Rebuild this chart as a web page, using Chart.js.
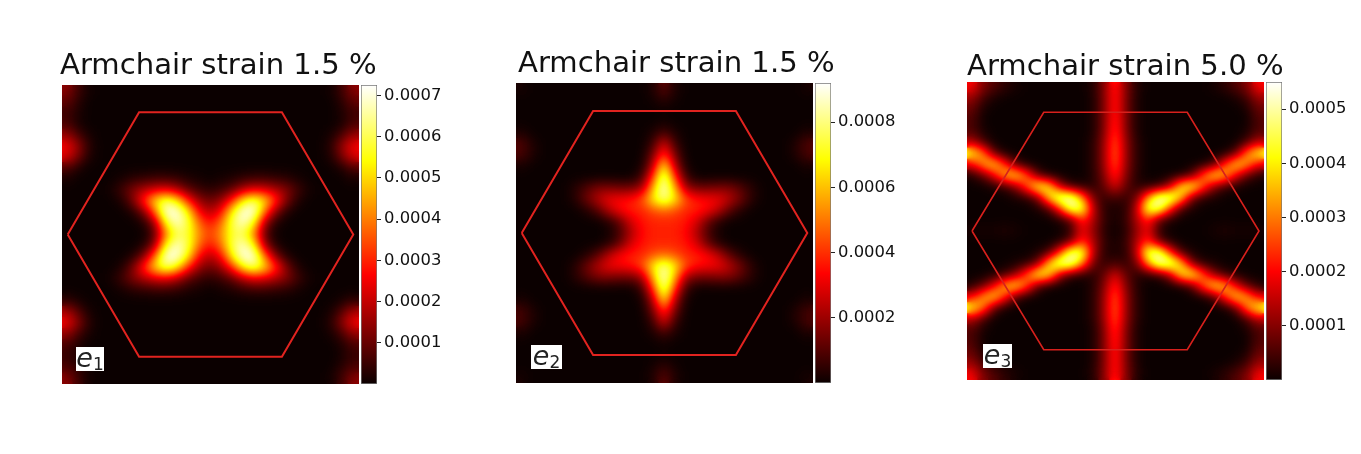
<!DOCTYPE html>
<html>
<head>
<meta charset="utf-8">
<script src="https://cdn.jsdelivr.net/npm/chart.js@4/dist/chart.umd.js"></script>
<style>
  html, body { margin: 0; background: #fff; }
  body { width: 1361px; height: 454px; position: relative; overflow: hidden; font-family: "DejaVu Sans", sans-serif; }
  canvas { position: absolute; display: block; }
  .title { position: absolute; font-size: 29.1px; line-height: 32px; color: #111; white-space: nowrap; }
  .tag { position: absolute; background: #fff; color: #222; font-size: 27px; line-height: 21px; height: 24px; text-align: center; }
  .tag sub { font-size: 17px; line-height: 0; vertical-align: -3px; }
</style>
</head>
<body>
<script>
// Heat values, in units of 1e-5, rows top to bottom
const e1Values = [
  [14,6,1,0,0,0,0,0,0,0,0,0,0,0,0,0,0,0,0,0,0,0,0,0,1,6,14],
  [10,3,0,0,0,0,0,0,0,0,0,0,0,0,0,0,0,0,0,0,0,0,0,0,0,3,10],
  [6,2,0,0,0,0,0,0,0,0,0,0,0,0,0,0,0,0,0,0,0,0,0,0,0,2,6],
  [7,1,0,0,0,0,0,0,0,0,0,0,0,0,0,0,0,0,0,0,0,0,0,0,0,1,7],
  [15,6,1,0,0,0,0,0,0,0,0,0,0,0,0,0,0,0,0,0,0,0,0,0,1,6,15],
  [26,15,3,0,0,0,0,0,0,0,0,0,0,0,0,0,0,0,0,0,0,0,0,0,3,15,26],
  [23,12,2,0,0,0,0,0,0,0,0,0,0,0,0,0,0,0,0,0,0,0,0,0,2,12,23],
  [8,2,0,0,0,0,0,0,0,0,0,0,0,0,0,0,0,0,0,0,0,0,0,0,0,2,8],
  [2,0,0,0,0,1,3,4,5,5,4,2,1,0,1,2,4,5,5,4,3,1,0,0,0,0,2],
  [0,0,0,0,1,6,13,18,22,24,18,9,5,3,5,9,18,24,22,18,13,6,1,0,0,0,0],
  [0,0,0,0,0,2,12,32,52,64,54,30,15,10,15,30,54,64,52,32,12,2,0,0,0,0,0],
  [0,0,0,0,0,0,2,12,38,78,82,54,26,18,26,54,82,78,38,12,2,0,0,0,0,0,0],
  [0,0,0,0,0,0,0,2,14,56,70,60,38,27,38,60,70,56,14,2,0,0,0,0,0,0,0],
  [0,0,0,0,0,0,0,0,8,40,60,58,42,33,42,58,60,40,8,0,0,0,0,0,0,0,0],
  [0,0,0,0,0,0,0,2,14,56,70,60,38,27,38,60,70,56,14,2,0,0,0,0,0,0,0],
  [0,0,0,0,0,0,2,12,38,78,82,54,26,18,26,54,82,78,38,12,2,0,0,0,0,0,0],
  [0,0,0,0,0,2,12,32,52,64,54,30,15,10,15,30,54,64,52,32,12,2,0,0,0,0,0],
  [0,0,0,0,1,6,13,18,22,24,18,9,5,3,5,9,18,24,22,18,13,6,1,0,0,0,0],
  [0,0,0,0,0,1,3,4,5,5,4,2,1,0,1,2,4,5,5,4,3,1,0,0,0,0,0],
  [4,1,0,0,0,0,0,0,0,0,0,0,0,0,0,0,0,0,0,0,0,0,0,0,0,1,4],
  [18,8,1,0,0,0,0,0,0,0,0,0,0,0,0,0,0,0,0,0,0,0,0,0,1,8,18],
  [26,14,3,0,0,0,0,0,0,0,0,0,0,0,0,0,0,0,0,0,0,0,0,0,3,14,26],
  [15,6,1,0,0,0,0,0,0,0,0,0,0,0,0,0,0,0,0,0,0,0,0,0,1,6,15],
  [7,2,0,0,0,0,0,0,0,0,0,0,0,0,0,0,0,0,0,0,0,0,0,0,0,2,7],
  [5,1,0,0,0,0,0,0,0,0,0,0,0,0,0,0,0,0,0,0,0,0,0,0,0,1,5],
  [7,3,0,0,0,0,0,0,0,0,0,0,0,0,0,0,0,0,0,0,0,0,0,0,0,3,7],
  [14,6,1,0,0,0,0,0,0,0,0,0,0,0,0,0,0,0,0,0,0,0,0,0,1,6,14]
];
const e2Values = [
  [2,0,0,0,0,0,0,0,0,0,0,0,3,12,3,0,0,0,0,0,0,0,0,0,0,0,2],
  [0,0,0,0,0,0,0,0,0,0,0,0,1,5,1,0,0,0,0,0,0,0,0,0,0,0,0],
  [0,0,0,0,0,0,0,0,0,0,0,0,0,0,0,0,0,0,0,0,0,0,0,0,0,0,0],
  [0,0,0,0,0,0,0,0,0,0,0,0,0,1,0,0,0,0,0,0,0,0,0,0,0,0,0],
  [3,0,0,0,0,0,0,0,0,0,0,0,2,8,2,0,0,0,0,0,0,0,0,0,0,0,3],
  [10,3,0,0,0,0,0,0,0,0,0,0,6,30,6,0,0,0,0,0,0,0,0,0,0,3,10],
  [9,3,0,0,0,0,0,0,0,0,0,0,14,44,14,0,0,0,0,0,0,0,0,0,0,3,9],
  [2,0,0,0,0,0,0,0,0,0,0,1,22,72,22,1,0,0,0,0,0,0,0,0,0,0,2],
  [0,0,0,0,0,0,0,0,0,0,0,6,40,88,40,6,0,0,0,0,0,0,0,0,0,0,0],
  [0,0,0,0,0,4,10,16,16,14,14,20,58,94,58,20,14,14,16,16,10,4,0,0,0,0,0],
  [0,0,0,0,0,4,14,24,32,34,36,44,68,84,68,44,36,34,32,24,14,4,0,0,0,0,0],
  [0,0,0,0,0,0,3,10,24,34,38,38,44,48,44,38,38,34,24,10,3,0,0,0,0,0,0],
  [0,0,0,0,0,0,0,0,3,12,28,36,38,38,38,36,28,12,3,0,0,0,0,0,0,0,0],
  [0,0,0,0,0,0,0,0,1,8,22,34,38,38,38,34,22,8,1,0,0,0,0,0,0,0,0],
  [0,0,0,0,0,0,0,0,3,12,28,36,38,38,38,36,28,12,3,0,0,0,0,0,0,0,0],
  [0,0,0,0,0,0,3,10,24,34,38,38,44,48,44,38,38,34,24,10,3,0,0,0,0,0,0],
  [0,0,0,0,0,4,14,24,32,34,36,44,68,84,68,44,36,34,32,24,14,4,0,0,0,0,0],
  [0,0,0,0,0,4,10,16,16,14,14,20,58,96,58,20,14,14,16,16,10,4,0,0,0,0,0],
  [0,0,0,0,0,0,0,0,0,0,0,6,40,88,40,6,0,0,0,0,0,0,0,0,0,0,0],
  [2,0,0,0,0,0,0,0,0,0,0,1,22,72,22,1,0,0,0,0,0,0,0,0,0,0,2],
  [8,3,0,0,0,0,0,0,0,0,0,0,14,44,14,0,0,0,0,0,0,0,0,0,0,3,8],
  [9,3,0,0,0,0,0,0,0,0,0,0,6,30,6,0,0,0,0,0,0,0,0,0,0,3,9],
  [3,0,0,0,0,0,0,0,0,0,0,0,2,8,2,0,0,0,0,0,0,0,0,0,0,0,3],
  [0,0,0,0,0,0,0,0,0,0,0,0,0,1,0,0,0,0,0,0,0,0,0,0,0,0,0],
  [0,0,0,0,0,0,0,0,0,0,0,0,0,0,0,0,0,0,0,0,0,0,0,0,0,0,0],
  [0,0,0,0,0,0,0,0,0,0,0,0,1,5,1,0,0,0,0,0,0,0,0,0,0,0,0],
  [2,0,0,0,0,0,0,0,0,0,0,0,3,12,3,0,0,0,0,0,0,0,0,0,0,0,2]
];
const e3Values = [
  [20,10,6,3,1,0,0,0,0,0,0,2,10,24,10,2,0,0,0,0,0,0,1,3,6,10,20],
  [12,4,1,0,0,0,0,0,0,0,0,1,9,24,9,1,0,0,0,0,0,0,0,0,1,4,12],
  [8,1,0,0,0,0,0,0,0,0,0,1,9,24,9,1,0,0,0,0,0,0,0,0,0,1,8],
  [6,0,0,0,0,0,0,0,0,0,0,1,9,25,9,1,0,0,0,0,0,0,0,0,0,0,6],
  [6,1,0,0,0,0,0,0,0,0,0,1,9,26,9,1,0,0,0,0,0,0,0,0,0,1,6],
  [14,4,0,0,0,0,0,0,0,0,0,2,11,29,11,2,0,0,0,0,0,0,0,0,0,4,14],
  [44,32,6,0,0,0,0,0,0,0,0,2,11,30,11,2,0,0,0,0,0,0,0,0,6,32,44],
  [18,34,42,24,4,0,0,0,0,0,0,2,11,29,11,2,0,0,0,0,0,0,4,24,42,34,18],
  [2,6,18,38,44,28,5,0,0,0,0,2,9,25,9,2,0,0,0,0,5,28,44,38,18,6,2],
  [0,0,1,3,10,28,48,42,12,2,1,2,7,18,7,2,1,2,12,42,48,28,10,3,1,0,0],
  [0,0,0,0,1,2,8,40,58,62,32,8,3,5,3,8,32,62,58,40,8,2,1,0,0,0,0],
  [0,0,0,0,0,0,1,4,24,52,50,14,2,1,2,14,50,52,24,4,1,0,0,0,0,0,0],
  [0,0,0,0,0,0,0,0,1,6,24,14,3,1,3,14,24,6,1,0,0,0,0,0,0,0,0],
  [1,1,1,2,1,0,0,0,0,3,20,11,2,0,2,11,20,3,0,0,0,0,1,2,1,1,1],
  [0,0,0,0,0,0,0,0,1,6,24,14,3,1,3,14,24,6,1,0,0,0,0,0,0,0,0],
  [0,0,0,0,0,0,1,4,24,52,50,14,2,1,2,14,50,52,24,4,1,0,0,0,0,0,0],
  [0,0,0,0,1,2,8,40,58,62,32,8,3,5,3,8,32,62,58,40,8,2,1,0,0,0,0],
  [0,0,1,3,10,28,48,42,12,2,1,2,7,18,7,2,1,2,12,42,48,28,10,3,1,0,0],
  [2,6,18,38,44,28,5,0,0,0,0,2,9,25,9,2,0,0,0,0,5,28,44,38,18,6,2],
  [18,34,42,24,4,0,0,0,0,0,0,2,11,29,11,2,0,0,0,0,0,0,4,24,42,34,18],
  [44,32,6,0,0,0,0,0,0,0,0,2,11,30,11,2,0,0,0,0,0,0,0,0,6,32,44],
  [14,4,0,0,0,0,0,0,0,0,0,2,11,29,11,2,0,0,0,0,0,0,0,0,0,4,14],
  [6,1,0,0,0,0,0,0,0,0,0,1,9,26,9,1,0,0,0,0,0,0,0,0,0,1,6],
  [6,0,0,0,0,0,0,0,0,0,0,1,9,25,9,1,0,0,0,0,0,0,0,0,0,0,6],
  [8,1,0,0,0,0,0,0,0,0,0,1,9,24,9,1,0,0,0,0,0,0,0,0,0,1,8],
  [12,4,1,0,0,0,0,0,0,0,0,1,9,24,9,1,0,0,0,0,0,0,0,0,1,4,12],
  [20,10,6,3,1,0,0,0,0,0,0,2,10,24,10,2,0,0,0,0,0,0,1,3,6,10,20]
];

// Brillouin zone outline
const hexX = [-1, -0.5, 0.5, 1, 0.5, -0.5, -1];
const hexY = [0, 0.866, 0.866, 0, -0.866, -0.866, 0];

// Colour bar ticks and upper limits, same units as the values
const e1Ticks = [10, 20, 30, 40, 50, 60, 70];
const e2Ticks = [20, 40, 60, 80];
const e3Ticks = [10, 20, 30, 40, 50];
const colorMax = [72.5, 92, 55];
const titles = ['Armchair strain 1.5 %', 'Armchair strain 1.5 %', 'Armchair strain 5.0 %'];

// Matplotlib "hot" colour map
const hotRgb = t => [
  Math.min(1, 0.0416 + t * 0.9584 / 0.365) * 255,
  Math.max(0, Math.min(1, (t - 0.365) / 0.381)) * 255,
  Math.max(0, Math.min(1, (t - 0.746) / 0.254)) * 255
].map(Math.round);
const hot = t => `rgb(${hotRgb(t).join(',')})`;
const hotTable = Array.from({ length: 256 }, (_, i) => hotRgb(i / 255));

// Cells are drawn as grey levels, smoothed, then turned into hot colours
const smoothCells = {
  id: 'smoothCells',
  afterDatasetDraw(chart, args) {
    if (args.index !== 0) return;
    const { ctx, canvas } = chart;
    ctx.save();
    ctx.filter = 'blur(4px)';
    ctx.drawImage(canvas, 0, 0);
    ctx.drawImage(canvas, 0, 0);
    ctx.restore();
    const img = ctx.getImageData(0, 0, canvas.width, canvas.height);
    for (let i = 0; i < img.data.length; i += 4) {
      const rgb = hotTable[img.data[i]];
      img.data[i] = rgb[0];
      img.data[i + 1] = rgb[1];
      img.data[i + 2] = rgb[2];
      img.data[i + 3] = 255;
    }
    ctx.putImageData(img, 0, 0);
  }
};

const addCanvas = (left, top, width, height) => {
  const canvas = document.createElement('canvas');
  canvas.width = width;
  canvas.height = height;
  canvas.style.cssText = `left:${left}px;top:${top}px;width:${width}px;height:${height}px`;
  document.body.appendChild(canvas);
  return canvas;
};

const addText = (className, html, css) => {
  const div = document.createElement('div');
  div.className = className;
  div.innerHTML = html;
  div.style.cssText = css;
  document.body.appendChild(div);
};

const drawHeat = (box, values, vmax, xRange, yRange, hexColor, hexWidth) => {
  const cells = [];
  const greys = [];
  values.forEach((row, r) => row.forEach((v, c) => {
    const g = Math.round(255 * Math.min(1, v / vmax));
    cells.push({ x: c, y: r });
    greys.push(`rgb(${g},${g},${g})`);
  }));
  new Chart(addCanvas(box.x, box.y, box.w, box.h), {
    type: 'scatter',
    data: {
      datasets: [{
        data: cells,
        xAxisID: 'gx',
        yAxisID: 'gy',
        order: 1,
        pointStyle: 'rect',
        pointRadius: 8.6,
        pointBorderWidth: 0,
        pointBackgroundColor: greys
      }, {
        type: 'line',
        data: hexX.map((x, i) => ({ x, y: hexY[i] })),
        xAxisID: 'x',
        yAxisID: 'y',
        order: 0,
        borderColor: hexColor,
        borderWidth: hexWidth,
        pointRadius: 0,
        tension: 0
      }]
    },
    options: {
      responsive: false,
      animation: false,
      events: [],
      layout: { padding: 0, autoPadding: false },
      plugins: { legend: { display: false }, tooltip: { enabled: false } },
      scales: {
        gx: { type: 'linear', display: false, min: -0.5, max: 26.5 },
        gy: { type: 'linear', display: false, min: -0.5, max: 26.5, reverse: true },
        x: { type: 'linear', display: false, min: -xRange, max: xRange },
        y: { type: 'linear', display: false, min: -yRange, max: yRange }
      }
    },
    plugins: [smoothCells]
  });
};

const drawColorBar = (box, ticks, vmax) => {
  const pad = 20;
  const width = 90;
  new Chart(addCanvas(box.x + box.w + 2, box.y - pad, width, box.h + 2 * pad), {
    type: 'bar',
    data: {
      labels: [''],
      datasets: [{
        data: [[0, vmax]],
        barPercentage: 1,
        categoryPercentage: 1,
        borderWidth: 1,
        borderColor: '#777',
        borderSkipped: false,
        backgroundColor: c => {
          const area = c.chart.chartArea;
          if (!area) return '#000';
          const g = c.chart.ctx.createLinearGradient(0, area.bottom, 0, area.top);
          [0, 0.365, 0.746, 1].forEach(t => g.addColorStop(t, hot(t)));
          return g;
        }
      }]
    },
    options: {
      responsive: false,
      animation: false,
      events: [],
      layout: { padding: { top: pad, bottom: pad, left: 0, right: 0 }, autoPadding: false },
      plugins: { legend: { display: false }, tooltip: { enabled: false } },
      scales: {
        x: { display: false },
        y: {
          position: 'right',
          min: 0,
          max: vmax,
          afterBuildTicks: s => { s.ticks = ticks.map(value => ({ value })); },
          afterFit: s => { s.width = width - 16; },
          border: { display: false },
          grid: { drawOnChartArea: false, drawTicks: true, tickLength: 4, color: '#222' },
          ticks: {
            color: '#111',
            padding: 3,
            font: { family: '"DejaVu Sans"', size: 16.4 },
            callback: v => (v / 100000).toFixed(4)
          }
        }
      }
    }
  });
};

// Panel 1
drawHeat({ x: 62, y: 85, w: 297, h: 299 }, e1Values, colorMax[0], 1.04, 1.06, '#e2231f', 2);
drawColorBar({ x: 62, y: 85, w: 297, h: 299 }, e1Ticks, colorMax[0]);
addText('title', titles[0], 'left:60px;top:48px');
addText('tag', '<i>e</i><sub>1</sub>', 'left:76px;top:347px;width:28px');

// Panel 2
drawHeat({ x: 516, y: 83, w: 297, h: 300 }, e2Values, colorMax[1], 1.04, 1.065, '#e2231f', 2);
drawColorBar({ x: 516, y: 83, w: 297, h: 300 }, e2Ticks, colorMax[1]);
addText('title', titles[1], 'left:518px;top:46px');
addText('tag', '<i>e</i><sub>2</sub>', 'left:531px;top:345px;width:31px');

// Panel 3
drawHeat({ x: 967, y: 82, w: 297, h: 298 }, e3Values, colorMax[2], 1.035, 1.087, '#d8201c', 1.6);
drawColorBar({ x: 967, y: 82, w: 297, h: 298 }, e3Ticks, colorMax[2]);
addText('title', titles[2], 'left:967px;top:49px');
addText('tag', '<i>e</i><sub>3</sub>', 'left:983px;top:344px;width:29px');
</script>
</body>
</html>
